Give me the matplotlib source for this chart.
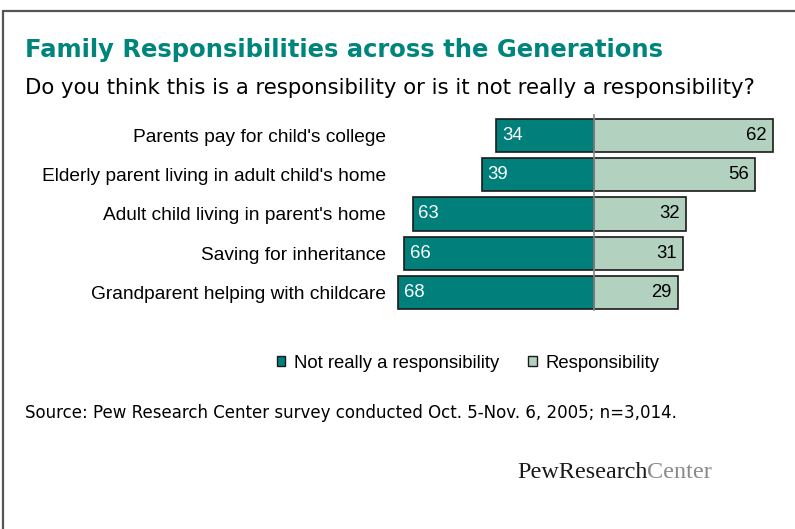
import matplotlib
matplotlib.use("Agg")
import matplotlib.pyplot as plt
import numpy as np
from matplotlib.patches import Rectangle

# survey items, top to bottom
items = ["Parents pay for child's college",
         "Elderly parent living in adult child's home",
         "Adult child living in parent's home",
         "Saving for inheritance",
         "Grandparent helping with childcare"]
not_resp = [34, 39, 63, 66, 68]
resp = [62, 56, 32, 31, 29]

teal = '#007f7b'
light = '#b3d1bf'
W, H = 795, 529

fig = plt.figure(figsize=(W / 100, H / 100), dpi=100)

def fx(px):
    return px / W

def fy(py):
    return 1 - py / H

# frame line round the slide
fig.patches.append(Rectangle((fx(3), fy(600)), 1.2, fy(11) - fy(600), transform=fig.transFigure,
                             fill=False, edgecolor='#555555', linewidth=1.6))

fig.text(fx(25), fy(57), "Family Responsibilities across the Generations", color='#00857c',
         fontsize=17.5, fontweight='bold', family='DejaVu Sans', ha='left', va='baseline')
fig.text(fx(25), fy(94), "Do you think this is a responsibility or is it not really a responsibility?",
         color='black', fontsize=15.3, family='DejaVu Sans', ha='left', va='baseline')

# axes: zero line sits at x=594px, 2.88 px per point
ax = fig.add_axes([fx(390), fy(316), fx(790) - fx(390), fy(110) - fy(316)])
scale = 2.88
ax.set_xlim(-(594 - 390) / scale, (790 - 594) / scale)
ax.set_ylim(4.6, -0.65)
y = np.arange(len(items))
ax.barh(y, [-v for v in not_resp], height=0.85, color=teal, edgecolor='#1a1a1a', linewidth=1.2)
ax.barh(y, resp, height=0.85, color=light, edgecolor='#1a1a1a', linewidth=1.2)
ax.plot([0, 0], [-0.52, 4.45], color='#888888', linewidth=1.2)

for yi, a, b in zip(y, not_resp, resp):
    ax.text(-a + 2.0, yi, str(a), color='white', fontsize=13.3, family='Liberation Sans',
            ha='left', va='center')
    ax.text(b - 2.1, yi, str(b), color='black', fontsize=13.3, family='Liberation Sans',
            ha='right', va='center')

ax.set_yticks(y)
ax.set_yticklabels(items, fontsize=13.8, family='Liberation Sans')
ax.tick_params(axis='y', length=0, pad=3)
ax.set_xticks([])
for s in ax.spines.values():
    s.set_visible(False)
ax.patch.set_alpha(0)

# legend
leg = ax.legend(handles=[Rectangle((0, 0), 1, 1, facecolor=teal, edgecolor='#1a1a1a'),
                         Rectangle((0, 0), 1, 1, facecolor=light, edgecolor='#1a1a1a')],
                labels=["Not really a responsibility", "Responsibility"],
                loc='center', bbox_to_anchor=(fx(468), fy(363)), bbox_transform=fig.transFigure,
                ncol=2, frameon=False, prop={'family': 'Liberation Sans', 'size': 13.3},
                handlelength=0.45, handleheight=0.45, handletextpad=0.45, columnspacing=1.6)

fig.text(fx(25), fy(418), "Source: Pew Research Center survey conducted Oct. 5-Nov. 6, 2005; n=3,014.",
         fontsize=11.95, family='DejaVu Sans', ha='left', va='baseline')

t1 = fig.text(fx(517), fy(478), "PewResearch", fontsize=17.4, family='Liberation Serif',
              color='#1a1a1a', ha='left', va='baseline')
fig.canvas.draw()
bb = t1.get_window_extent()
fig.text(bb.x1 / W, fy(478), "Center", fontsize=17.4, family='Liberation Serif',
         color='#8a8a8a', ha='left', va='baseline')

fig.savefig('out.png', dpi=100)
